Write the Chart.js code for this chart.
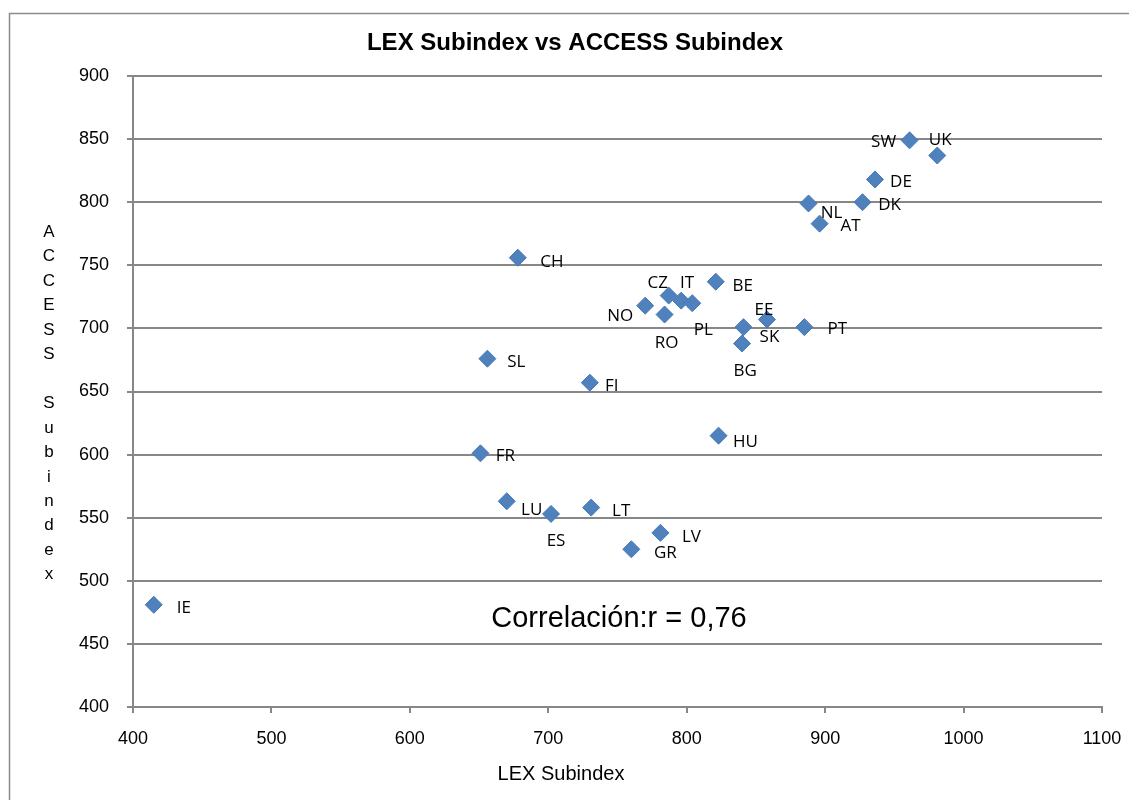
<!DOCTYPE html>
<html>
<head>
<meta charset="utf-8">
<title>LEX Subindex vs ACCESS Subindex</title>
<script src="https://cdn.jsdelivr.net/npm/chart.js@4.4.0/dist/chart.umd.min.js"></script>
<style>
  html, body { margin: 0; padding: 0; background: #fff; }
  #wrap { width: 1129px; height: 800px; }
</style>
</head>
<body>
<div id="wrap"><canvas id="scatterChart" width="1129" height="800"></canvas></div>
<script>
// Data
const countries = ['SW', 'UK', 'DE', 'DK', 'NL', 'AT', 'CH', 'BE', 'CZ', 'IT', 'PL', 'NO', 'RO', 'EE',
    'SK', 'BG', 'PT', 'SL', 'FI', 'HU', 'FR', 'LU', 'ES', 'LT', 'LV', 'GR', 'IE'];
const lexValues = [961, 981, 936, 927, 888, 896, 678, 821, 787, 796, 804, 770, 784, 858,
    841, 840, 885, 656, 730, 823, 651, 670, 702, 731, 781, 760, 415];
const accessValues = [849, 837, 818, 800, 799, 783, 756, 737, 726, 722, 720, 718, 711, 707,
    701, 688, 701, 676, 657, 615, 601, 563, 553, 558, 538, 525, 481];
const xTicks = [400, 500, 600, 700, 800, 900, 1000, 1100];
const yTicks = [400, 450, 500, 550, 600, 650, 700, 750, 800, 850, 900];

const chartTitle = 'LEX Subindex vs ACCESS Subindex';
const xTitle = 'LEX Subindex';
const yTitle = 'ACCESS Subindex';
const note = 'Correlación:r = 0,76';

// where each country label sits relative to its marker (px)
const labelOffsets = [[-26, 1], [3, -16], [26, 2], [27, 2], [23, 9], [31, 2], [34, 3], [27, 3],
    [-11, -13], [6, -18], [11, 26], [-25, 9], [2, 28], [-3, -10], [26, 9], [3, 27], [33, 1],
    [29, 2], [22, 2], [27, 5], [25, 2], [25, 8], [5, 26], [30, 3], [31, 3], [34, 3], [30, 2]];

const gridGray = '#878787';

// Custom drawing: frame, titles, note and the point labels
const textPlugin = {
    id: 'textPlugin',
    beforeDraw(chart) {
        const ctx = chart.ctx;
        ctx.save();
        ctx.strokeStyle = '#8c8c8c';
        ctx.lineWidth = 1.5;
        ctx.strokeRect(9.5, 13.5, 1400, 1000);
        ctx.restore();
    },
    afterDraw(chart) {
        const ctx = chart.ctx;
        ctx.save();
        ctx.fillStyle = '#000';
        ctx.textAlign = 'center';
        ctx.textBaseline = 'alphabetic';

        ctx.font = 'bold 24px "Liberation Sans", Arial, sans-serif';
        ctx.fillText(chartTitle, 575, 50);

        ctx.font = '20px "Liberation Sans", Arial, sans-serif';
        ctx.fillText(xTitle, 561, 780);

        ctx.font = '17px "Liberation Sans", Arial, sans-serif';
        yTitle.split('').forEach((ch, i) => {
            ctx.fillText(ch, 49, 237 + i * 24.45);
        });

        ctx.font = '29px "Liberation Sans", Arial, sans-serif';
        ctx.fillText(note, 619, 627);

        // point labels
        const meta = chart.getDatasetMeta(0);
        ctx.font = '17px "Open Sans", sans-serif';
        ctx.textBaseline = 'middle';
        meta.data.forEach((pt, i) => {
            const off = labelOffsets[i];
            ctx.fillText(countries[i], pt.x + off[0], pt.y + off[1] + 1);
        });
        ctx.restore();
    }
};

const ctx = document.getElementById('scatterChart').getContext('2d');

new Chart(ctx, {
    type: 'scatter',
    data: {
        datasets: [{
            label: 'ACCESS vs LEX',
            data: lexValues.map((v, i) => ({ x: v, y: accessValues[i] })),
            pointStyle: 'rectRot',
            pointRadius: 8.5,
            pointHoverRadius: 8.5,
            backgroundColor: '#4F81BD',
            borderColor: '#4678b5',
            borderWidth: 1
        }]
    },
    options: {
        responsive: false,
        animation: false,
        layout: { padding: { left: 0, top: 76, right: 27, bottom: 0 } },
        plugins: {
            legend: { display: false },
            title: { display: false },
            tooltip: { enabled: false }
        },
        scales: {
            x: {
                type: 'linear',
                min: 400,
                max: 1100,
                afterBuildTicks: (scale) => { scale.ticks = xTicks.map(v => ({ value: v })); },
                afterFit: (scale) => {
                    scale.height = 93;
                    scale.paddingLeft = 0;
                    scale.paddingRight = 0;
                },
                grid: { drawOnChartArea: false, drawTicks: true, tickLength: 6, color: gridGray, lineWidth: 2 },
                border: { display: true, color: gridGray, width: 2 },
                ticks: {
                    autoSkip: false,
                    maxRotation: 0,
                    padding: 15,
                    color: '#000',
                    font: { family: '"Liberation Sans", Arial, sans-serif', size: 18 },
                    callback: (v) => String(v)
                }
            },
            y: {
                type: 'linear',
                min: 400,
                max: 900,
                afterBuildTicks: (scale) => { scale.ticks = yTicks.map(v => ({ value: v })); },
                afterFit: (scale) => {
                    scale.width = 133;
                    scale.paddingTop = 0;
                    scale.paddingBottom = 0;
                },
                grid: { color: gridGray, lineWidth: 2, tickLength: 6, drawTicks: true },
                border: { display: true, color: gridGray, width: 2 },
                ticks: {
                    autoSkip: false,
                    padding: 18,
                    color: '#000',
                    font: { family: '"Liberation Sans", Arial, sans-serif', size: 18 },
                    callback: (v) => String(v)
                }
            }
        }
    },
    plugins: [textPlugin]
});
</script>
</body>
</html>
